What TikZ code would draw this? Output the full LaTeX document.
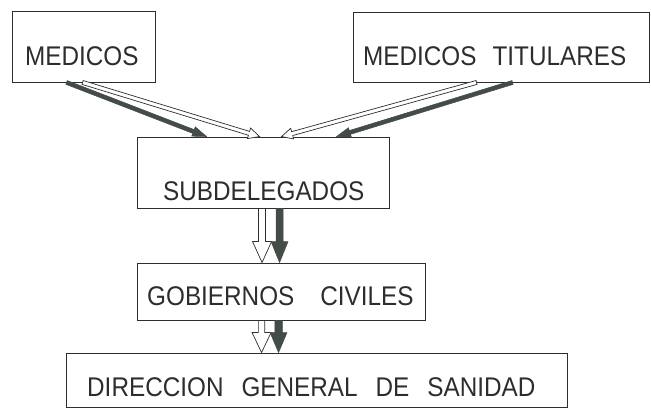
\documentclass[tikz,border=0pt]{standalone}
\usepackage{fontspec}
\setmainfont[FakeStretch=0.9]{Liberation Sans}
\usetikzlibrary{calc}
\definecolor{ink}{RGB}{45,45,45}
\definecolor{darkarr}{RGB}{68,76,72}
\newcommand{\fatarrow}[6]{%
  \coordinate (hb) at ($(#3)!#6!(#2)$);
  \filldraw[#1] ($(#2)!#4!90:(#3)$) -- ($(hb)!#4!-90:(#2)$) -- ($(hb)!#5!-90:(#2)$) -- (#3)
     -- ($(hb)!#5!90:(#2)$) -- ($(hb)!#4!90:(#2)$) -- ($(#2)!#4!-90:(#3)$) -- cycle;
}
\tikzset{
  box/.style={draw=ink, line width=0.9pt, inner sep=0pt, fill=none},
  lbl/.style={font=\fontsize{27}{27}\selectfont, text=ink, inner sep=0pt, anchor=base west},
  hollow/.style={draw=ink, line width=0.7pt, fill=white, line join=miter},
  solid/.style={draw=darkarr, line width=0.5pt, fill=darkarr, line join=miter},
}
\begin{document}
\begin{tikzpicture}[x=1pt, y=-1pt]
\useasboundingbox[fill=white] (0,0) rectangle (651,408);

% boxes
\node[box, minimum width=143pt, minimum height=71pt] (med) at (83.5,46.5) {};
\node[box, minimum width=296pt, minimum height=70pt] (tit) at (501,47) {};
\node[box, minimum width=252pt, minimum height=71pt] (sub) at (263,172.5) {};
\node[box, minimum width=288pt, minimum height=57pt] (gob) at (281,291.5) {};
\node[box, minimum width=501pt, minimum height=54pt] (dir) at (316.5,380) {};

% labels
\node[lbl] (tmed) at (25,65) {MEDICOS};
\node[lbl] (ttit) at (363,65) {MEDICOS\hspace{16pt}TITULARES};
\node[lbl] (tsub) at (163,200) {SUBDELEGADOS};
\node[lbl] (tgob) at (147,305) {GOBIERNOS\hspace{26pt}CIVILES};
\node[lbl] (tdir) at (87,396) {DIRECCION\hspace{18pt}GENERAL\hspace{18pt}DE\hspace{18pt}SANIDAD};

% connector end points
\coordinate (m1) at ($(med.south west)+(55,0)$);
\coordinate (m2) at ($(med.south west)+(71,0)$);
\coordinate (t1) at ($(tit.south west)+(124,0)$);
\coordinate (t2) at ($(tit.south west)+(160,0)$);
\coordinate (s1) at ($(sub.north west)+(70,0)$);
\coordinate (s2) at ($(sub.north west)+(123,0)$);
\coordinate (s3) at ($(sub.north west)+(145,0)$);
\coordinate (s4) at ($(sub.north west)+(200,0)$);
\coordinate (sb1) at ($(sub.south west)+(125.5,0)$);
\coordinate (sb2) at ($(sub.south west)+(143,0)$);
\coordinate (g1) at ($(gob.north west)+(125.5,0)$);
\coordinate (g2) at ($(gob.north west)+(143,0)$);
\coordinate (gb1) at ($(gob.south west)+(125,0)$);
\coordinate (gb2) at ($(gob.south west)+(142,0)$);
\coordinate (d1) at ($(dir.north west)+(196,0)$);
\coordinate (d2) at ($(dir.north west)+(213,0)$);

% diagonal arrows
\fatarrow{solid}{m1}{s1}{2pt}{5pt}{14pt}
\fatarrow{hollow}{m2}{s2}{2pt}{5.5pt}{11pt}
\fatarrow{hollow}{t1}{s3}{2pt}{5.5pt}{11pt}
\fatarrow{solid}{t2}{s4}{2pt}{5pt}{14pt}

% vertical arrows
\fatarrow{hollow}{sb1}{g1}{3.5pt}{9.5pt}{21pt}
\fatarrow{solid}{sb2}{g2}{3.5pt}{8.5pt}{21pt}
\fatarrow{hollow}{gb1}{d1}{3.2pt}{9.5pt}{20pt}
\fatarrow{solid}{gb2}{d2}{3.8pt}{8.5pt}{20pt}
\end{tikzpicture}
\end{document}
